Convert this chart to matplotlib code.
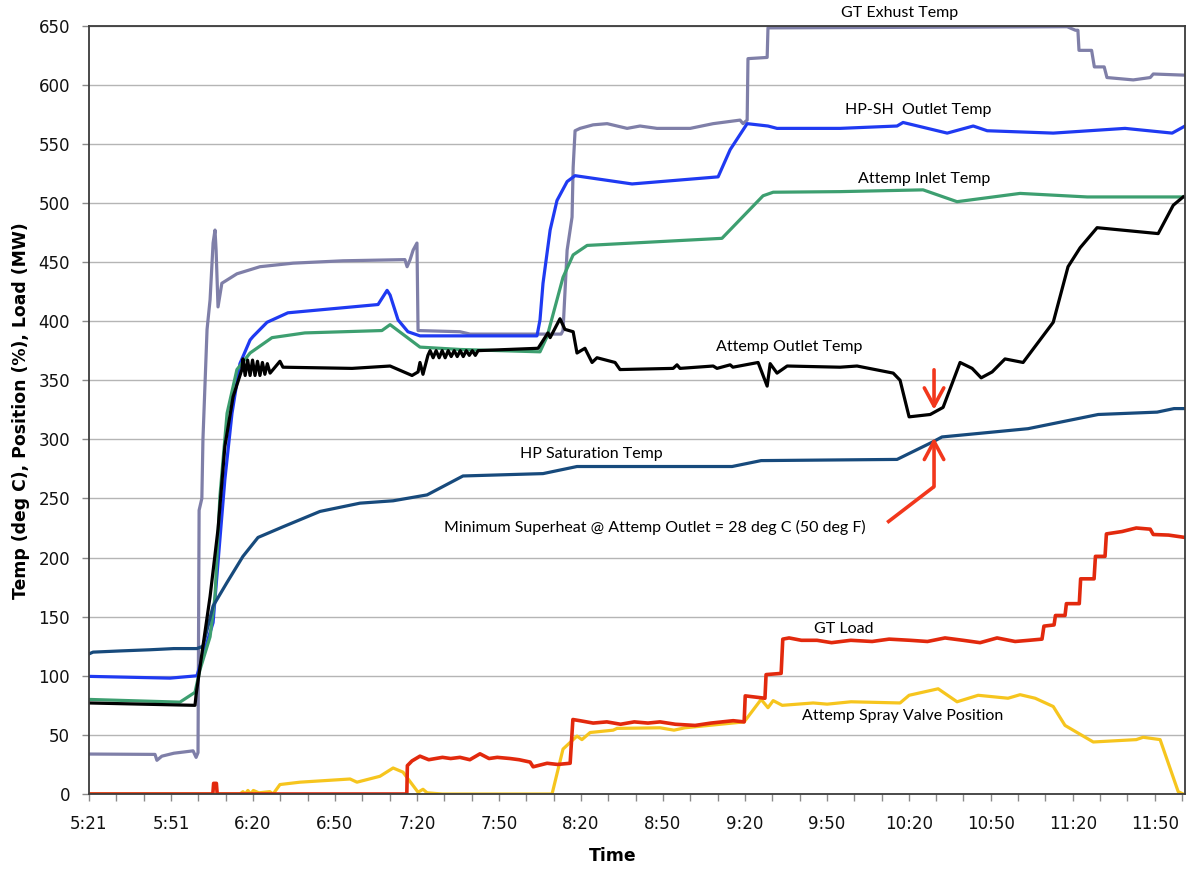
import numpy as np
import matplotlib
matplotlib.use("Agg")
import matplotlib.pyplot as plt

# time axis: minutes after midnight, labels every ~29.9 min (Excel category axis)
tick_labels = ["5:21", "5:51", "6:20", "6:50", "7:20", "7:50", "8:20",
               "8:50", "9:20", "9:50", "10:20", "10:50", "11:20", "11:50"]
T0 = 321.0
LABEL_STEP = 29.92
T_END = 721.0

# GT exhaust temp (deg C)
gt_exh_t = [321.0, 345.1, 345.8, 347.6, 352.0, 359.0, 360.1, 360.8, 361.2, 362.2,
            362.6, 364.1, 365.2, 366.3, 367.0, 367.4, 368.1, 369.5, 375.0, 383.4,
            395.5, 413.7, 436.3, 437.1, 438.2, 439.3, 440.7, 441.1, 456.4, 460.1,
            493.3, 494.0, 495.5, 497.3, 497.7, 498.4, 500.2, 505.0, 510.1, 517.4,
            522.1, 528.3, 540.4, 548.8, 558.6, 559.7, 561.2, 561.5, 568.5, 568.8,
            678.0, 681.0, 681.9, 682.3, 686.9, 687.9, 691.5, 692.5, 702.1, 708.3,
            709.4, 721.0]
gt_exh_v = [33.8, 33.5, 28.5, 32, 34.5, 36.5, 31, 35, 240, 250,
            300, 393, 418, 466, 477, 460, 412, 432, 440, 446,
            449, 451, 452, 446, 452, 460, 466, 392, 391, 389,
            389, 392, 460, 488, 530, 561, 563, 566, 567, 563,
            565, 563, 563, 567, 570, 567, 570, 622, 623, 648,
            649, 646, 646, 629, 629, 615, 615, 606, 604, 606,
            609, 608]

# HP-SH outlet temp
hpsh_t = [321.0, 350.6, 360.4, 365.9, 366.3, 368.1, 370.6, 373.2, 376.1, 379.8,
          380.9, 386.0, 393.6, 426.5, 429.8, 430.9, 433.8, 437.4, 441.8, 484.5,
          485.6, 486.7, 489.3, 491.8, 495.5, 498.4, 519.2, 550.6, 555.0, 561.2,
          568.8, 572.1, 595.1, 615.9, 618.1, 634.2, 643.7, 648.8, 672.9, 699.1,
          716.3, 721.0]
hpsh_v = [99.5, 98, 100, 142, 145, 196, 266, 322, 364, 384,
          387, 399, 407, 414, 426, 422, 401, 391, 387.5, 387.5,
          401, 432, 477, 502, 518, 523, 516, 522, 545, 567,
          565, 563, 563, 565, 568, 559, 565, 561, 559, 563,
          559, 565]

# attemperator inlet temp
inlet_t = [321.0, 354.2, 359.7, 361.5, 365.2, 367.0, 368.8, 371.4, 375.0, 379.8,
           387.8, 399.8, 427.9, 430.9, 441.8, 456.4, 485.6, 488.2, 494.0, 497.7,
           502.8, 552.0, 567.0, 570.7, 595.1, 625.4, 637.8, 660.8, 685.3, 721.0]
inlet_v = [80, 77.7, 86, 105, 133, 167, 252, 322, 359, 373,
           386, 390, 392, 397, 378, 376, 374, 387, 437, 456,
           464, 470, 506, 509, 509.5, 511, 501, 508, 505, 505]

# attemperator outlet temp
outlet_t = [321.0, 359.7, 360.1, 362.6, 365.2, 368.1, 370.6, 373.6, 376.8, 377.2,
            378.0, 378.9, 379.8, 380.7, 381.6, 382.5, 383.4, 384.3, 385.2, 386.1,
            387.1, 390.7, 391.8, 417.0, 430.9, 438.9, 441.1, 441.8, 442.9, 444.7,
            445.5, 446.6, 447.7, 448.8, 449.9, 451.0, 452.1, 453.2, 454.3, 455.4,
            456.5, 457.6, 458.7, 459.8, 460.9, 462.0, 463.0, 484.9, 488.5, 489.3,
            492.9, 494.7, 497.7, 499.1, 502.0, 504.6, 506.4, 513.0, 514.8, 534.2,
            535.6, 536.7, 548.8, 550.2, 555.0, 556.0, 565.2, 568.5, 569.6, 572.1,
            575.8, 595.1, 601.3, 614.5, 617.0, 620.3, 628.0, 632.7, 638.9, 643.3,
            646.6, 650.6, 655.3, 661.9, 672.9, 678.3, 682.7, 688.9, 711.2, 716.7,
            720.3]
outlet_v = [77, 75, 84, 125, 167, 224, 294, 336, 359, 368,
            354, 367, 354, 367, 354, 366, 354, 365, 355, 364,
            356, 366, 361, 360, 362, 354, 357, 365, 355, 371,
            375, 369, 375, 369, 375, 369, 375, 370, 375, 370,
            375, 370, 375, 371, 375, 371, 375, 377, 390, 386,
            402, 393, 391, 373, 377, 365, 369, 365, 359, 360,
            363, 360, 362, 360, 363, 361, 365, 345, 364, 356,
            362, 361, 362, 356, 350, 319, 321, 327, 365, 360,
            352, 357, 368, 365, 399, 446, 462, 479, 474, 498,
            505]

# HP saturation temp
sat_t = [321.0, 322.5, 332.3, 343.3, 352.0, 360.4, 362.6, 366.3, 371.4, 377.2,
         382.7, 391.8, 405.3, 419.9, 432.0, 444.4, 457.5, 486.7, 499.1, 555.7,
         566.3, 615.9, 629.1, 632.3, 663.7, 689.3, 710.8, 717.0, 721.0]
sat_v = [118.5, 120, 121, 122, 123, 123, 125, 159, 179, 201,
         217, 226, 239, 246, 248, 253, 269, 271, 277, 277,
         282, 283, 298, 302, 309, 321, 323, 326, 326]

# GT load (MW)
load_t = [321.0, 366.2, 366.5, 367.5, 367.8, 437.0, 437.2, 438.9, 441.8, 445.0,
          450.0, 453.0, 456.4, 460.0, 463.7, 467.0, 470.0, 474.7, 478.0, 482.0,
          483.1, 488.2, 492.0, 496.6, 497.6, 500.2, 505.0, 510.0, 515.0, 520.0,
          525.0, 529.4, 535.0, 542.2, 548.0, 556.1, 560.1, 560.5, 567.7, 568.1,
          573.6, 574.2, 576.5, 581.0, 586.7, 592.0, 599.0, 606.8, 613.0, 620.7,
          627.0, 633.4, 640.0, 646.2, 652.4, 659.0, 664.0, 668.8, 669.5, 673.2,
          673.7, 677.2, 677.7, 682.4, 682.9, 687.8, 688.3, 691.8, 692.3, 698.0,
          703.2, 708.3, 709.4, 715.0, 721.0]
load_v = [0, 0, 9, 9, 0, 0, 24, 28, 32, 29,
          31, 30, 31, 29, 34, 30, 31, 30, 29, 27,
          23, 26, 25, 26, 63, 62, 60, 61, 59, 61,
          60, 61, 59, 58, 60, 62, 61, 83, 81, 101,
          102, 131, 132, 130, 130, 128, 130, 129, 131, 130,
          129, 132, 130, 128, 132, 129, 130, 131, 142, 143,
          151, 151, 161, 161, 182, 182, 201, 201, 220, 222,
          225, 224, 219.5, 219, 217]

# attemperator spray valve position (%)
spray_t = [321.0, 376.1, 377.2, 378.0, 379.0, 380.0, 381.0, 383.0, 387.0, 388.2,
           390.7, 398.0, 416.3, 418.8, 427.2, 432.0, 435.6, 441.1, 442.9, 444.4,
           450.0, 490.0, 494.0, 499.1, 500.9, 503.9, 512.3, 513.7, 529.4, 534.5,
           538.5, 560.1, 566.3, 568.8, 570.7, 574.0, 585.3, 590.4, 599.1, 617.0,
           620.3, 630.9, 637.8, 645.5, 656.4, 660.8, 666.3, 672.9, 677.2, 687.5,
           703.2, 705.7, 711.9, 718.5, 720.3]
spray_v = [0, 0, 2, 0, 3, 0, 3, 1, 2, 0,
           8, 10, 12.7, 10, 15, 22, 18.5, 1.5, 4, 1,
           0, 0, 38, 49, 46, 52, 54, 55.5, 56, 54,
           56, 61, 80, 73, 79, 75, 77, 76, 78, 77,
           83.5, 89, 78, 83.5, 81, 84, 81, 74, 58, 44,
           46, 48, 46, 2, 0]

LABEL_FONT = ["Lato", "DejaVu Sans"]
RED = "#f2371c"

fig = plt.figure(figsize=(11.94, 8.71), dpi=100)
ax = fig.add_axes([0.0745, 0.0884, 0.9180, 0.8823])

lw = 2.3
ax.plot(gt_exh_t, gt_exh_v, color="#7f7fa8", lw=lw)
ax.plot(hpsh_t, hpsh_v, color="#1f3af2", lw=lw)
ax.plot(inlet_t, inlet_v, color="#3d9f70", lw=lw)
ax.plot(sat_t, sat_v, color="#174a7c", lw=lw)
ax.plot(outlet_t, outlet_v, color="black", lw=lw)
ax.plot(spray_t, spray_v, color="#f6c51e", lw=lw)
ax.plot(load_t, load_v, color="#e2290d", lw=2.6)

ax.set_xlim(T0, T_END)
ax.set_ylim(0, 650)
ax.set_yticks(np.arange(0, 651, 50))
ax.set_xticks(T0 + LABEL_STEP * np.arange(len(tick_labels)))
ax.set_xticklabels(tick_labels)
ax.set_xticks(np.arange(T0, T_END, LABEL_STEP / 3), minor=True)

ax.yaxis.grid(True, color="#b5b5b5", lw=1.0)
ax.set_axisbelow(True)
for s in ax.spines.values():
    s.set_color("#3c3c3c")
    s.set_linewidth(1.3)

ax.tick_params(axis="x", which="both", direction="out", length=5, width=1,
               color="#8a8a8a", labelsize=12, pad=10, labelcolor="#111111")
ax.tick_params(axis="y", direction="out", length=5, width=1, color="#8a8a8a",
               labelsize=12, pad=8.5, labelcolor="#111111")

fig.text(0.0176, 0.529, "Temp (deg C), Position (%), Load (MW)", rotation=90,
         ha="center", va="center", fontsize=12.4, fontweight="bold")
fig.text(0.5134, 0.0172, "Time", ha="center", va="center",
         fontsize=12.4, fontweight="bold")

labels = [
    ("GT Exhust Temp", 617.0, 660.2),
    ("HP-SH  Outlet Temp", 623.6, 578.3),
    ("Attemp Inlet Temp", 625.8, 520.0),
    ("Attemp Outlet Temp", 576.5, 378.2),
    ("HP Saturation Temp", 504.2, 287.9),
    ("Minimum Superheat @ Attemp Outlet = 28 deg C (50 deg F)", 527.6, 225.4),
    ("GT Load", 596.6, 139.3),
    ("Attemp Spray Valve Position", 618.1, 65.8),
]
for txt, x, y in labels:
    ax.text(x, y, txt, ha="center", va="center", fontsize=11.5,
            family=LABEL_FONT, clip_on=False)

# red arrows: superheat margin at 10:20
arrow = dict(arrowstyle="->, head_length=0.65, head_width=0.35", color=RED,
             lw=2.6, mutation_scale=20, shrinkA=0, shrinkB=0)
ax.annotate("", xy=(629.4, 325.0), xytext=(629.4, 358.8), arrowprops=arrow)
ax.plot([612.3, 629.4], [229.6, 260.0], color=RED, lw=2.6, solid_capstyle="butt")
ax.annotate("", xy=(629.4, 301.4), xytext=(629.4, 260.0), arrowprops=arrow)

fig.savefig("out.png", dpi=100)
